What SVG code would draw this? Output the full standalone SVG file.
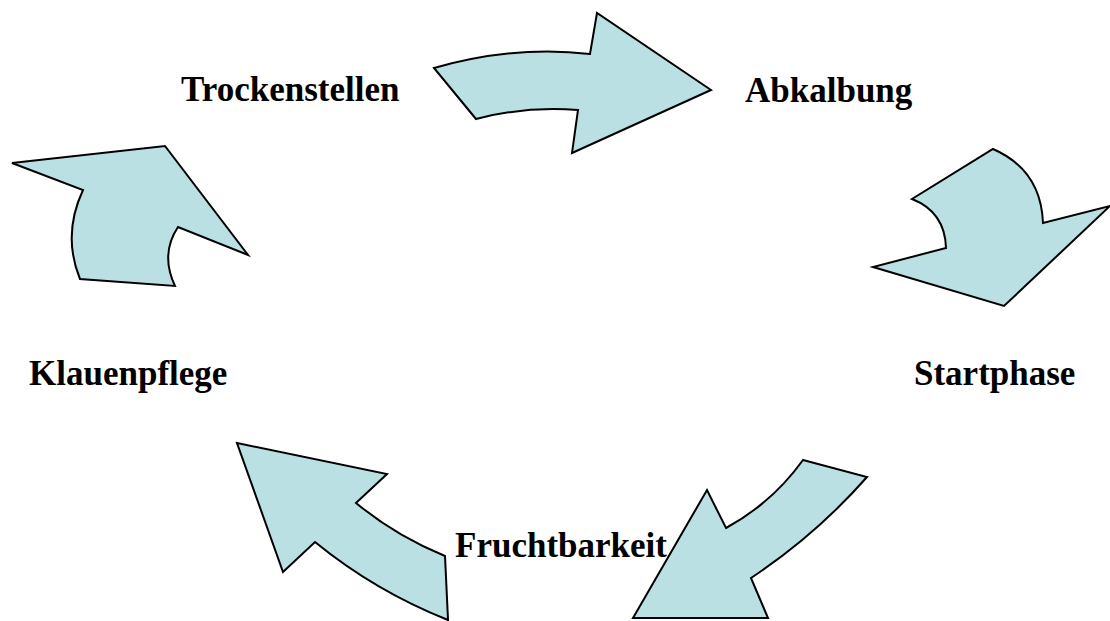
<svg xmlns="http://www.w3.org/2000/svg" width="1110" height="621" viewBox="0 0 1110 621">
<style>
.arrow{fill:#BBE0E3;stroke:#000;stroke-width:2;stroke-linejoin:miter}
.lbl{font-family:"Liberation Serif","Times New Roman",serif;font-weight:bold;font-size:35px;fill:#000}
</style>
<rect width="1110" height="621" fill="#fff"/>
<g id="connectors">
<path id="arrow-top" class="arrow" d="M434,68 Q515,45 590,54 L597,13 L711,90 L572,153 L578,110 Q525,106 476,119 Z"/>
<path id="arrow-right" class="arrow" d="M993,149 Q1041,170 1043,223 L1110,206 L1004,306 L873,267 L946,248 Q945,212 912,199 Z"/>
<path id="arrow-bottom-right" class="arrow" d="M803,460 L867,477 Q816,535 751,578 L768,618 L633,618 L707,490 L726,528 Q772,503 803,460 Z"/>
<path id="arrow-bottom-left" class="arrow" d="M237,443 L387,474 L356,503 Q396,536 445,556 L448,620 Q375,591 315,542 L283,572 Z"/>
<path id="arrow-left" class="arrow" d="M12,163 L165,146 L248,255 L178,227 Q160,254 175,286 L80,279 Q62,235 83,190 Z"/>
</g>
<g id="node-trockenstellen"><text class="lbl" x="181" y="101">Trockenstellen</text></g>
<g id="node-abkalbung"><text class="lbl" x="745" y="102">Abkalbung</text></g>
<g id="node-startphase"><text class="lbl" x="914" y="385">Startphase</text></g>
<g id="node-fruchtbarkeit"><text class="lbl" x="455" y="557">Fruchtbarkeit</text></g>
<g id="node-klauenpflege"><text class="lbl" x="29" y="385">Klauenpflege</text></g>
</svg>
